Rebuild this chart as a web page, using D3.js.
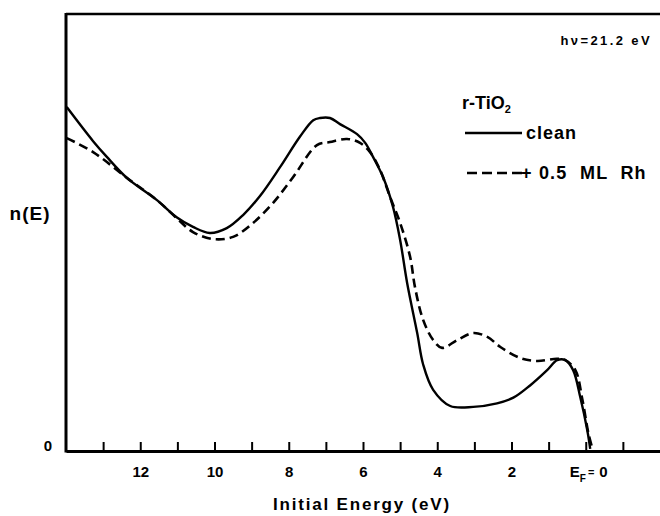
<!DOCTYPE html>
<html>
<head>
<meta charset="utf-8">
<script src="https://cdn.jsdelivr.net/npm/d3@7"></script>
<style>
  body { margin: 0; background: #fff; }
  svg { display: block; }
  text { font-family: "Liberation Sans", Arial, sans-serif; font-weight: bold; fill: #000; }
</style>
</head>
<body>
<svg id="chart" width="660" height="516"></svg>
<script>
// values (energy in eV, n(E) in arbitrary units 0..100)
const cleanE = [13.98, 13.27, 12.9, 12.36, 11.55, 11.02, 10.58, 10.13, 9.67, 9.23, 8.77, 8.23, 7.7, 7.34, 7.16, 6.89, 6.62, 6.16, 5.94, 5.73, 5.46, 5.19, 5.0, 4.81, 4.54, 4.38, 4.11, 3.65, 3.03, 2.39, 1.95, 1.5, 1.04, 0.77, 0.55, 0.34, 0.15, -0.04, -0.12];
const cleanN = [78.7, 70.9, 67.3, 62.5, 57.4, 53.5, 51.3, 49.9, 51.0, 54.0, 58.4, 65.0, 71.9, 75.7, 76.2, 76.2, 74.8, 72.5, 70.5, 67.3, 62.7, 55.8, 48.3, 38.4, 27.0, 19.8, 14.0, 10.3, 10.1, 10.9, 12.2, 15.0, 18.5, 20.8, 20.8, 18.5, 12.4, 4.8, 0.5];

const rhE = [13.98, 13.27, 12.36, 11.55, 11.02, 10.58, 10.04, 9.5, 8.96, 8.42, 7.88, 7.24, 6.89, 6.43, 6.08, 5.81, 5.54, 5.27, 5.0, 4.73, 4.6, 4.38, 4.11, 3.87, 3.46, 3.03, 2.65, 2.3, 1.77, 1.31, 0.77, 0.55, 0.28, 0.09, -0.07, -0.18];
const rhN = [71.6, 68.4, 62.5, 57.4, 53.3, 50.1, 48.5, 49.0, 52.2, 56.8, 62.7, 70.0, 70.7, 71.4, 70.5, 68.4, 64.3, 58.1, 52.2, 44.4, 37.5, 30.0, 25.4, 23.6, 25.4, 27.0, 26.1, 23.8, 21.3, 20.6, 21.1, 20.8, 18.5, 11.7, 4.1, 0.5];

const xTicks = [13, 12, 11, 10, 9, 8, 7, 6, 5, 4, 3, 2, 1, 0, -1];
const xLabels = [12, 10, 8, 6, 4, 2];

const svg = d3.select('#chart');
const m = { left: 66, right: 660, top: 14, bottom: 451 };

const x = d3.scaleLinear().domain([14, -2]).range([m.left, m.right]);
const y = d3.scaleLinear().domain([0, 100]).range([m.bottom, m.top]);

// frame: top and left, bottom axis
svg.append('line').attr('x1', m.left).attr('x2', m.right).attr('y1', m.top).attr('y2', m.top)
  .attr('stroke', '#000').attr('stroke-width', 2.5);
svg.append('line').attr('x1', m.left).attr('x2', m.left).attr('y1', m.top - 1).attr('y2', m.bottom + 1.5)
  .attr('stroke', '#000').attr('stroke-width', 3);

const xAxis = d3.axisBottom(x)
  .tickValues(xTicks)
  .tickSizeInner(-9)
  .tickSizeOuter(0)
  .tickFormat(d => xLabels.includes(d) ? d : '');

const gx = svg.append('g').attr('transform', `translate(0,${m.bottom})`).call(xAxis);
gx.select('.domain').attr('stroke-width', 3);
gx.selectAll('.tick line').attr('stroke-width', 2);
gx.selectAll('.tick text').attr('font-size', 15).attr('dy', '0.71em').attr('y', 15);

// E_F = 0 label
const ef = svg.append('text').attr('x', x(0) - 16).attr('y', 477).attr('font-size', 15);
ef.append('tspan').text('E');
ef.append('tspan').text('F').attr('font-size', 10).attr('dy', 5);
ef.append('tspan').text('=').attr('font-size', 11).attr('dy', -6).attr('dx', 2);
ef.append('tspan').text('0').attr('dy', 1).attr('dx', 5);

// y axis labels
svg.append('text').attr('x', 48).attr('y', 451).attr('text-anchor', 'middle')
  .attr('font-size', 15).text('0');
svg.append('text').attr('x', 30).attr('y', 220).attr('text-anchor', 'middle')
  .attr('font-size', 19).attr('letter-spacing', 1).text('n(E)');

// x title
svg.append('text').attr('x', (m.left + m.right) / 2 - 1).attr('y', 510).attr('text-anchor', 'middle')
  .attr('font-size', 17).attr('letter-spacing', 1.8).text('Initial Energy (eV)');

// curves
const line = d3.line().x(d => x(d[0])).y(d => y(d[1])).curve(d3.curveCatmullRom.alpha(0.5));
const cleanPts = cleanE.map((e, i) => [e, cleanN[i]]);
const rhPts = rhE.map((e, i) => [e, rhN[i]]);

svg.append('path').datum(rhPts).attr('d', line).attr('fill', 'none')
  .attr('stroke', '#000').attr('stroke-width', 2.6).attr('stroke-dasharray', '9,5');
svg.append('path').datum(cleanPts).attr('d', line).attr('fill', 'none')
  .attr('stroke', '#000').attr('stroke-width', 2.4);

// annotation and legend
svg.append('text').attr('x', 652).attr('y', 45).attr('text-anchor', 'end')
  .attr('font-size', 13).attr('letter-spacing', 2.4).text('hν=21.2 eV');

const tio = svg.append('text').attr('x', 462).attr('y', 109).attr('font-size', 18);
tio.append('tspan').text('r-TiO');
tio.append('tspan').text('2').attr('font-size', 11).attr('dy', 4);

svg.append('line').attr('x1', 465).attr('x2', 522).attr('y1', 133).attr('y2', 133)
  .attr('stroke', '#000').attr('stroke-width', 2.4);
svg.append('text').attr('x', 526).attr('y', 139).attr('font-size', 18).attr('letter-spacing', 1).text('clean');

svg.append('line').attr('x1', 467).attr('x2', 524).attr('y1', 173).attr('y2', 173)
  .attr('stroke', '#000').attr('stroke-width', 2.6).attr('stroke-dasharray', '10,5');
svg.append('text').attr('x', 521).attr('y', 179).attr('font-size', 18).attr('letter-spacing', 1.2)
  .attr('xml:space', 'preserve').text('+ 0.5  ML  Rh');
</script>
</body>
</html>
